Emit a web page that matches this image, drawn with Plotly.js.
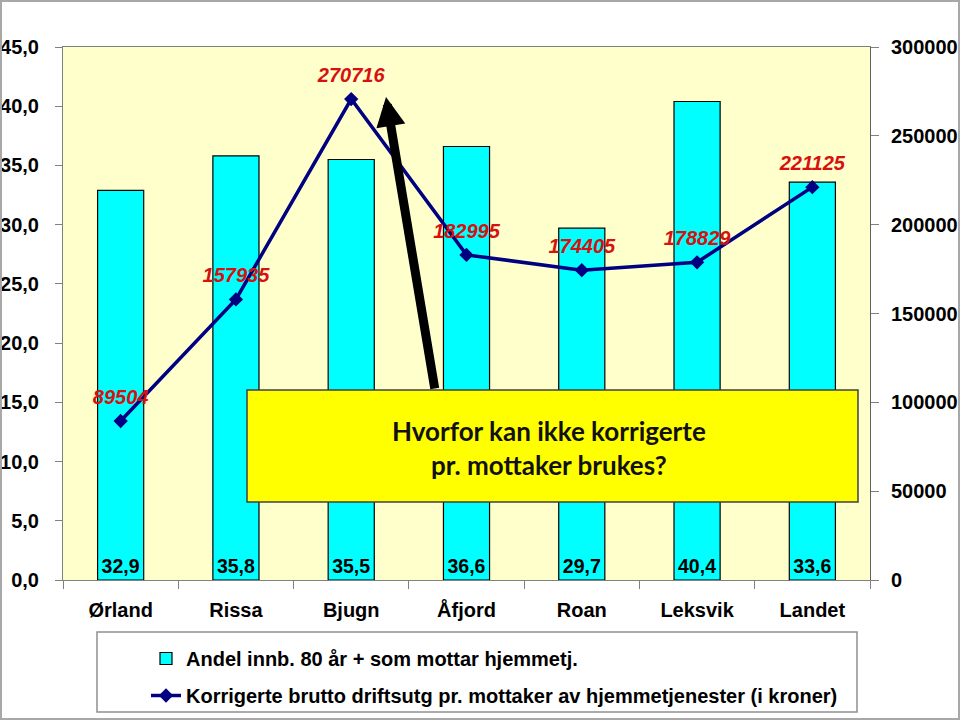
<!DOCTYPE html>
<html>
<head>
<meta charset="utf-8">
<script src="https://cdn.plot.ly/plotly-3.0.1.min.js"></script>
<style>
  html, body { margin: 0; padding: 0; background: #fff; }
  #wrap { position: relative; width: 960px; height: 720px; }
  #chart { width: 960px; height: 720px; }
  #frame { position: absolute; left: 0; top: 0; width: 960px; height: 720px; box-sizing: border-box; border: 2px solid #a8a8a8; pointer-events: none; }
</style>
</head>
<body>
<div id="wrap"><div id="chart"></div><div id="frame"></div></div>
<script>
// Data
const categories = ['Ørland', 'Rissa', 'Bjugn', 'Åfjord', 'Roan', 'Leksvik', 'Landet'];
const andelValues = [32.9, 35.8, 35.5, 36.6, 29.7, 40.4, 33.6];
const utgifterValues = [89504, 157935, 270716, 182995, 174405, 178829, 221125];
const seriesNames = ['Andel innb. 80 år + som mottar hjemmetj.',
                     'Korrigerte brutto driftsutg pr. mottaker av hjemmetjenester (i kroner)'];
const leftTicks = [0, 5, 10, 15, 20, 25, 30, 35, 40, 45];
const rightTicks = [0, 50000, 100000, 150000, 200000, 250000, 300000];
const calloutText = 'Hvorfor kan ikke korrigerte<br>pr. mottaker brukes?';

const SANS = 'Liberation Sans, Arial, sans-serif';

const traces = [
  {
    type: 'bar',
    name: seriesNames[0],
    x: categories,
    y: andelValues,
    yaxis: 'y',
    marker: { color: '#00FFFF', line: { color: '#000000', width: 1.2 } },
    texttemplate: '%{y:.1f}',
    textposition: 'inside',
    insidetextanchor: 'start',
    textangle: 0,
    constraintext: 'none',
    textfont: { family: SANS, size: 19.5, color: '#000000', weight: 'bold' },
    hoverinfo: 'skip',
    legendgroup: 'a'
  },
  {
    type: 'scatter',
    mode: 'lines+markers',
    name: seriesNames[1],
    x: categories,
    y: utgifterValues,
    yaxis: 'y2',
    line: { color: '#000080', width: 3.5 },
    marker: { symbol: 'diamond', size: 11, color: '#000080' },
    hoverinfo: 'skip',
    legendgroup: 'b'
  },
  {
    type: 'scatter',
    mode: 'markers+text',
    x: categories,
    y: utgifterValues,
    yaxis: 'y2',
    text: utgifterValues.map(String),
    textposition: 'top center',
    textfont: { family: SANS, size: 20, color: '#D81010', weight: 'bold', style: 'italic' },
    marker: { size: 18, opacity: 0 },
    showlegend: false,
    hoverinfo: 'skip'
  }
];

const px = (v) => (v - 63) / 807;
const py = (v) => (580 - v) / 533;

const layout = {
  width: 960, height: 720,
  margin: { l: 63, r: 90, t: 47, b: 140, autoexpand: false },
  paper_bgcolor: '#ffffff',
  plot_bgcolor: '#FFFFCC',
  separators: ', ',
  bargap: 0.6,
  showlegend: true,
  xaxis: {
    type: 'category',
    showline: true, mirror: true, linecolor: '#808080', linewidth: 1,
    ticks: 'outside', tickson: 'boundaries', ticklen: 8, tickcolor: '#808080',
    ticklabelstandoff: 12,
    tickfont: { family: SANS, size: 20, color: '#000000', weight: 'bold' },
    showgrid: false, zeroline: false, fixedrange: true
  },
  yaxis: {
    range: [0, 45], tickvals: leftTicks, tickformat: '.1f',
    showline: true, mirror: true, linecolor: '#808080', linewidth: 1,
    ticks: 'outside', ticklen: 7, tickcolor: '#808080',
    ticklabelstandoff: 12,
    tickfont: { family: SANS, size: 20, color: '#000000', weight: 'bold' },
    showgrid: false, zeroline: false, fixedrange: true
  },
  yaxis2: {
    range: [0, 300000], tickvals: rightTicks, tickformat: 'd',
    overlaying: 'y', side: 'right',
    showline: true, linecolor: '#606060', linewidth: 1,
    ticks: 'outside', ticklen: 8, tickcolor: '#808080',
    ticklabelstandoff: 8,
    tickfont: { family: SANS, size: 20, color: '#000000', weight: 'bold' },
    showgrid: false, zeroline: false, fixedrange: true
  },
  legend: {
    x: px(146), y: py(639), xanchor: 'left', yanchor: 'top',
    bgcolor: 'rgba(0,0,0,0)', borderwidth: 0,
    traceorder: 'grouped', tracegroupgap: 8,
    font: { family: SANS, size: 20, color: '#000000', weight: 'bold' }
  },
  shapes: [
    { type: 'rect', xref: 'paper', yref: 'paper', x0: px(97), x1: px(857), y0: py(712), y1: py(632),
      line: { color: '#909090', width: 1.5 }, fillcolor: 'rgba(0,0,0,0)', layer: 'above' },
    { type: 'rect', xref: 'paper', yref: 'paper', x0: px(247), x1: px(858), y0: py(502), y1: py(390),
      line: { color: '#404040', width: 1.5 }, fillcolor: '#FFFF00', layer: 'above' }
  ],
  annotations: [
    { xref: 'paper', yref: 'paper', x: px(549), y: py(448), xanchor: 'center', yanchor: 'middle',
      text: calloutText, showarrow: false, align: 'center',
      font: { family: 'Lato, Carlito, sans-serif', size: 26, color: '#111111', weight: 700 } },
    { xref: 'paper', yref: 'paper', x: px(386), y: py(97), text: '',
      showarrow: true, ax: 49, ay: 293, arrowhead: 2, arrowsize: 0.65, arrowwidth: 9,
      arrowcolor: '#000000', standoff: 0 }
  ]
};

Plotly.newPlot('chart', traces, layout, { displayModeBar: false, staticPlot: true });
</script>
</body>
</html>
